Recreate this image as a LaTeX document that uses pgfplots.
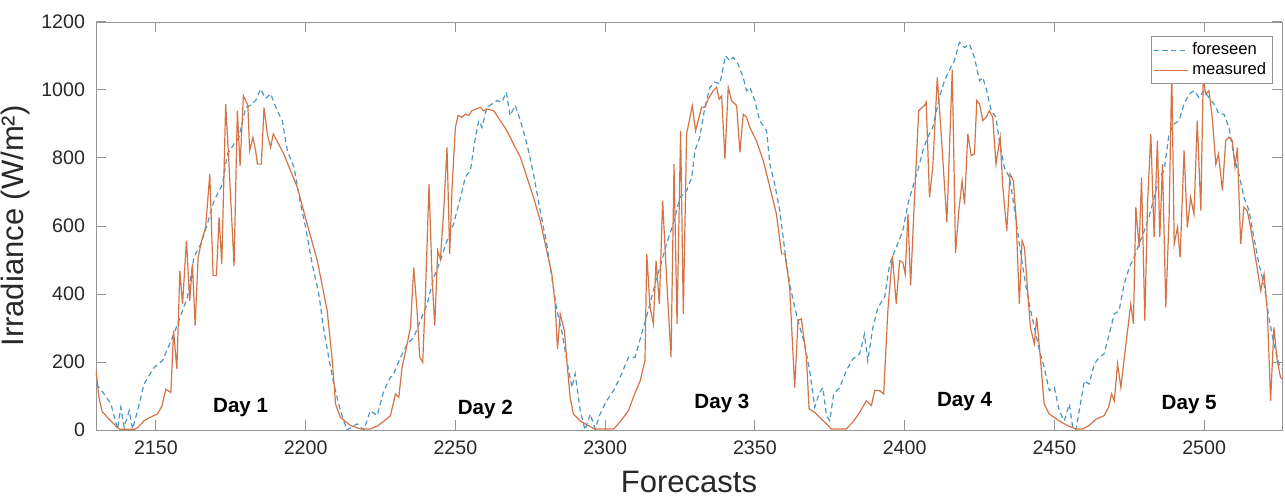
\documentclass[border=0pt]{standalone}
\usepackage{pgfplots}
\pgfplotsset{compat=1.18}
\usepackage{fontspec}
\setmainfont{Liberation Sans}
\definecolor{fblue}{RGB}{75,150,195}
\definecolor{morange}{RGB}{212,115,70}
\definecolor{axgray}{RGB}{150,150,150}
\definecolor{txtgray}{RGB}{40,40,40}
\begin{document}
\begin{tikzpicture}
\begin{axis}[
  scale only axis,
  width=593pt, height=204pt,
  xmin=2130, xmax=2526, ymin=0, ymax=1200,
  xtick={2150,2200,...,2500},
  ytick={0,200,...,1200},
  /pgf/number format/assume math mode=true,
  /pgf/number format/set thousands separator={},
  tick label style={font=\fontsize{9.8}{11}\selectfont, text=txtgray},
  xticklabel style={yshift=-2pt},
  yticklabel style={xshift=-2pt},
  axis line style={axgray},
  tick style={axgray, line width=0.5pt},
  major tick length=5pt,
  xlabel={Forecasts},
  ylabel={Irradiance (W/m²)},
  label style={font=\fontsize{15.5}{18}\selectfont, text=txtgray},
  xlabel style={yshift=-1pt},
  ylabel style={yshift=-1pt},
  legend style={at={(rel axis cs:0.992,0.965)}, anchor=north east,
    font=\fontsize{8.3}{10}\selectfont, draw=axgray, inner sep=1pt,
    row sep=-1.5pt},
  legend cell align=left,
]
\addplot[fblue, line width=0.6pt, dash pattern=on 2.6pt off 1.8pt] coordinates {
(2130,135)(2132.7,106)(2135,76)(2137.2,3)(2138.3,67)(2139.4,8)(2141.1,57)(2142.2,3)(2143.9,57)(2146,135)(2149.4,184)(2152.2,204)(2155.5,272)(2157.7,322)(2160.5,390)(2162.7,508)(2165,547)(2167.2,606)(2169.4,674)(2172.2,723)(2173.9,812)(2176.1,841)(2177.7,861)(2180,949)(2181.6,955)(2183.3,969)(2185,1003)(2186.6,975)(2188.3,989)(2190.5,939)(2192.2,910)(2193.9,822)(2196.1,773)(2198.3,665)(2200,596)(2202.2,488)(2204.4,400)(2206.1,292)(2207.7,214)(2209.4,135)(2211.6,57)(2213.8,0)(2217.2,18)(2219.4,0)(2221.6,57)(2223.9,42)(2226.1,116)(2228.3,155)(2229.4,165)(2231.7,214)(2233.9,253)(2236.1,272)(2238.3,322)(2240.6,371)(2242.8,449)(2245,498)(2247.2,557)(2249.4,606)(2251.7,684)(2253.3,743)(2255,763)(2256.7,861)(2257.8,910)(2258.9,890)(2260.5,949)(2262.2,959)(2263.9,969)(2265.5,964)(2267,993)(2268.3,925)(2270,955)(2271.7,910)(2273.9,841)(2276.1,753)(2278.3,645)(2280.5,547)(2282.2,449)(2283.9,351)(2285.5,292)(2287.2,204)(2288.9,125)(2290,165)(2291.7,57)(2293.3,0)(2295,47)(2296.7,3)(2298.3,47)(2300.5,86)(2302.8,116)(2305,155)(2307.8,214)(2310,214)(2312.8,302)(2315,371)(2317.2,449)(2318.3,478)(2320.5,547)(2322.7,606)(2325,684)(2327.2,704)(2328.9,743)(2330,822)(2331.6,861)(2333.3,949)(2335,1008)(2336.6,1023)(2338.3,1018)(2340.2,1101)(2341.6,1086)(2342.7,1096)(2344.4,1076)(2346.1,1037)(2347.2,998)(2348.3,1008)(2350,969)(2351.6,910)(2353.9,880)(2355,782)(2356.6,724)(2358.3,645)(2360,527)(2361.6,430)(2363.3,361)(2365,302)(2366.6,253)(2368.3,174)(2370,67)(2371.4,106)(2372.7,125)(2373.9,42)(2375,27)(2376.3,106)(2378.3,125)(2380.5,174)(2382.7,209)(2385,224)(2386.6,282)(2387.7,204)(2389.4,302)(2391.1,361)(2393.3,390)(2395,488)(2397.2,537)(2399.4,586)(2401.1,665)(2402.7,714)(2404.4,763)(2406.1,822)(2407.7,861)(2409.4,890)(2411.6,978)(2413.3,1027)(2415,1060)(2416.6,1086)(2418.3,1140)(2420,1125)(2421.6,1135)(2423.3,1096)(2425,1027)(2426.1,1037)(2427.4,998)(2428.9,939)(2430.5,920)(2431.6,851)(2433.3,772)(2435,743)(2436.6,655)(2438.3,547)(2440,449)(2441.6,371)(2443.3,302)(2445,233)(2446.6,184)(2448.3,116)(2450,125)(2451.6,57)(2453.3,27)(2455,76)(2456.1,8)(2457.2,0)(2458.3,57)(2460,145)(2461.6,135)(2463.3,194)(2465,214)(2466.6,224)(2468.3,282)(2470,341)(2471.6,351)(2473.3,429)(2475,478)(2476.6,508)(2478.3,547)(2480,586)(2481.6,626)(2483.3,684)(2485,743)(2486.6,763)(2488.3,871)(2490,900)(2491.6,910)(2493.3,959)(2495,988)(2496.6,998)(2498.3,978)(2500,998)(2501.6,978)(2503.3,959)(2505,929)(2506.6,929)(2508.3,890)(2510,802)(2511.6,753)(2513.3,684)(2515,645)(2516.6,567)(2518.3,488)(2520,429)(2521.6,331)(2523.3,253)(2525,194)(2526,180)
};
\addlegendentry{foreseen}
\addplot[morange, line width=0.6pt] coordinates {
(2130,175)(2131,95)(2132,55)(2134,35)(2136,18)(2137,8)(2138,2)(2143,2)(2144,8)(2146,27)(2148,37)(2150.5,47)(2152,70)(2153.3,120)(2155,110)(2155.9,292)(2157,180)(2158,468)(2158.9,370)(2160.2,557)(2161.3,380)(2162.2,488)(2163.1,307)(2164.1,508)(2165.3,557)(2166.6,596)(2168,753)(2169.1,454)(2170.2,454)(2171.1,625)(2172,488)(2173.3,959)(2174.4,782)(2176.1,483)(2177.2,939)(2178.1,777)(2179.2,983)(2180.7,955)(2181.3,822)(2182.4,861)(2183.3,822)(2183.9,782)(2185.2,782)(2186.1,949)(2187.2,871)(2188.3,831)(2189.2,871)(2192.7,812)(2197.2,714)(2200.5,606)(2203.9,498)(2207.2,351)(2208.9,204)(2210,76)(2211.6,37)(2215,13)(2218.3,3)(2221.6,3)(2224,12)(2226,25)(2228.3,42)(2230,106)(2231.1,96)(2232.2,184)(2233.9,253)(2235,302)(2236.1,478)(2237.2,351)(2238.1,214)(2239.1,199)(2240,400)(2241.2,724)(2242.2,449)(2243.1,307)(2244.1,527)(2245,503)(2246.1,645)(2247.2,831)(2248.1,518)(2248.9,714)(2250,890)(2250.9,925)(2252.2,920)(2253.3,929)(2254.4,925)(2255.5,939)(2258.3,949)(2259.4,939)(2260.5,944)(2262.8,939)(2265,910)(2267.2,880)(2269.4,841)(2271.7,802)(2273.9,743)(2276.1,684)(2278.3,616)(2280.5,527)(2282.2,459)(2283.3,371)(2284.1,238)(2285,341)(2286.4,292)(2287.2,204)(2288.3,96)(2289.4,47)(2291.6,27)(2294.4,13)(2296.6,3)(2302.8,3)(2303.9,13)(2306.1,37)(2307.8,57)(2309.4,96)(2311.7,145)(2313.3,204)(2313.9,518)(2315,361)(2316.1,312)(2317,498)(2318.1,371)(2319.2,674)(2320.5,450)(2322,214)(2323,782)(2324,312)(2325.2,880)(2326.1,341)(2327.2,871)(2328.1,910)(2329.1,954)(2330.2,880)(2332.2,949)(2333.3,949)(2334.4,973)(2336.1,998)(2337.2,1008)(2338.1,973)(2338.9,983)(2340,797)(2341.1,1008)(2342.2,969)(2343.9,954)(2345,817)(2346.1,929)(2347.2,920)(2348.3,890)(2350.5,851)(2352.8,792)(2355,714)(2357.2,635)(2358.9,518)(2360,518)(2361.6,420)(2363.3,125)(2364.4,322)(2365.5,327)(2367.2,214)(2368.1,62)(2370,52)(2371.6,37)(2373.9,18)(2375.5,3)(2380.5,3)(2382.7,23)(2385,52)(2387.2,86)(2388.9,72)(2390,116)(2391.6,116)(2393,106)(2394.4,351)(2395.9,513)(2397.2,371)(2398.3,498)(2399.4,493)(2400.2,459)(2401.1,635)(2402,425)(2403.3,684)(2404.7,939)(2406.6,954)(2407.2,964)(2408.3,684)(2409.4,773)(2410.9,1037)(2412.2,871)(2414.1,611)(2415.9,1060)(2417,520)(2418.1,645)(2419.2,733)(2420,664)(2421.1,871)(2422.2,807)(2423.3,812)(2424.1,969)(2425,959)(2426.1,910)(2427.2,920)(2428.3,939)(2429.4,920)(2430.5,782)(2431.9,861)(2432.7,724)(2434.1,586)(2435.2,753)(2436.3,733)(2437.2,625)(2438.3,371)(2439.2,557)(2440,537)(2440.9,429)(2442,302)(2443.3,253)(2444.1,331)(2445.2,224)(2446.6,76)(2448.3,47)(2451.6,27)(2454.4,13)(2457.2,3)(2459.4,3)(2461.6,13)(2463.9,32)(2466.6,42)(2468.1,67)(2469.1,106)(2470,86)(2471.1,194)(2472.2,125)(2473.9,253)(2475.5,371)(2476.4,312)(2477.2,655)(2478.3,537)(2479.1,743)(2480.2,322)(2481.1,665)(2482.2,871)(2483.3,567)(2484.4,851)(2485.2,567)(2486.1,782)(2487.2,361)(2488.3,626)(2489.2,1057)(2490,547)(2491.1,596)(2492,508)(2493.3,822)(2494.4,596)(2495.5,684)(2496.6,635)(2497.7,910)(2498.9,645)(2499.7,1037)(2500.5,988)(2501.6,998)(2502.7,920)(2503.9,782)(2504.8,812)(2506.1,704)(2507.2,851)(2508.3,861)(2509.4,851)(2510.3,773)(2511.1,831)(2512.2,547)(2513.3,655)(2514.4,645)(2515.5,596)(2516.6,537)(2518.9,410)(2520,459)(2521.1,351)(2522.2,86)(2523.3,302)(2524.4,204)(2525.5,155)(2526,150)
};
\addlegendentry{measured}
\node[font=\bfseries\fontsize{10.3}{12}\selectfont] at (axis cs:2178.3,65) {Day 1};
\node[font=\bfseries\fontsize{10.3}{12}\selectfont] at (axis cs:2260,59) {Day 2};
\node[font=\bfseries\fontsize{10.3}{12}\selectfont] at (axis cs:2339,79) {Day 3};
\node[font=\bfseries\fontsize{10.3}{12}\selectfont] at (axis cs:2420,85) {Day 4};
\node[font=\bfseries\fontsize{10.3}{12}\selectfont] at (axis cs:2495,74) {Day 5};
\end{axis}
\pgfresetboundingbox
\path ([shift={(-48pt,-34pt)}]current axis.south west) rectangle ([shift={(1.5pt,11pt)}]current axis.north east);
\end{tikzpicture}
\end{document}
